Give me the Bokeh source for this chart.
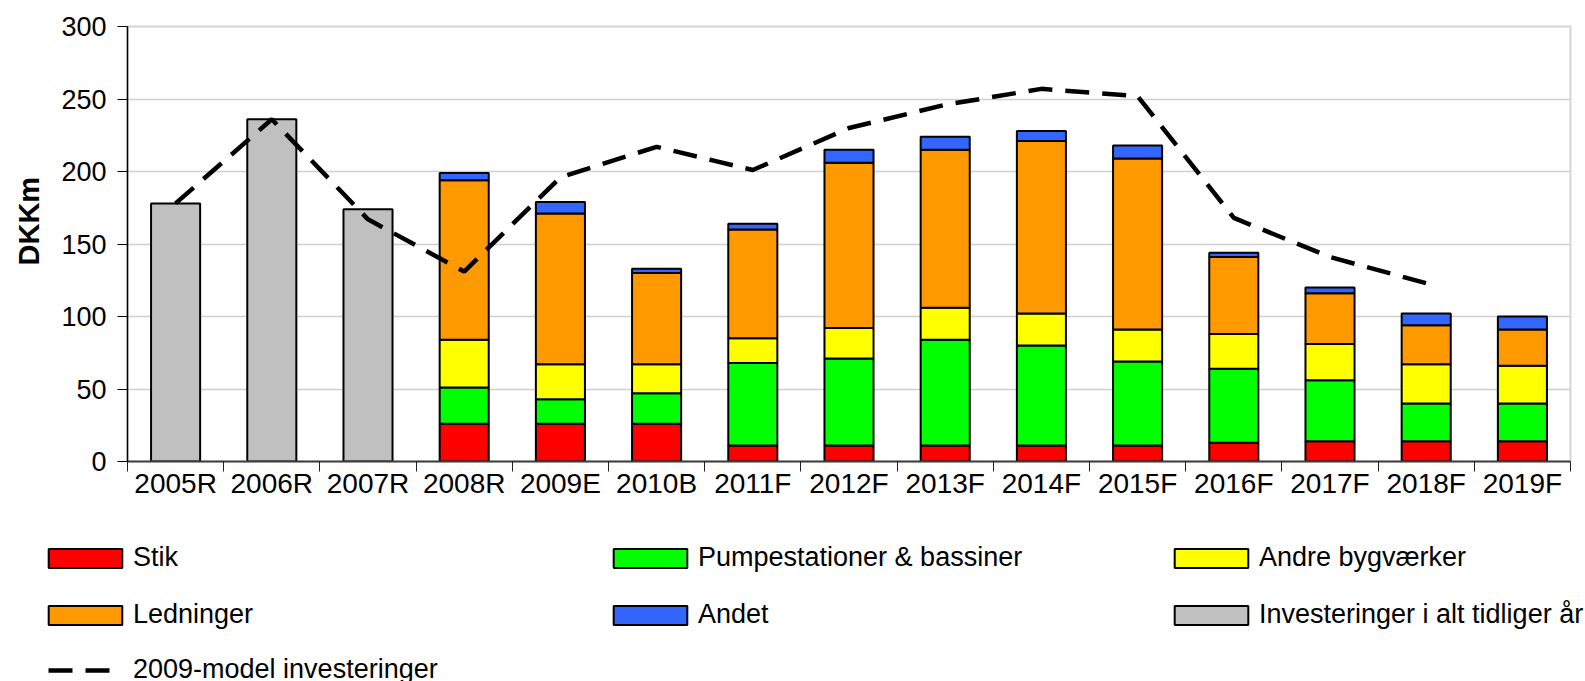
from bokeh.plotting import figure
from bokeh.models import (ColumnDataSource, FixedTicker, Legend, LegendItem,
                          Range1d, Title)
from bokeh.embed import file_html
from bokeh.resources import INLINE

# ---------------- data ----------------
categories = ["2005R", "2006R", "2007R", "2008R", "2009E", "2010B", "2011F",
              "2012F", "2013F", "2014F", "2015F", "2016F", "2017F", "2018F", "2019F"]

earlier_years = ["2005R", "2006R", "2007R"]
earlier_total = [178, 236, 174]

stack_years = ["2008R", "2009E", "2010B", "2011F", "2012F", "2013F",
               "2014F", "2015F", "2016F", "2017F", "2018F", "2019F"]
stik = [26, 26, 26, 11, 11, 11, 11, 11, 13, 14, 14, 14]
pumpe = [25, 17, 21, 57, 60, 73, 69, 58, 51, 42, 26, 26]
andre = [33, 24, 20, 17, 21, 22, 22, 22, 24, 25, 27, 26]
ledninger = [110, 104, 63, 75, 114, 109, 119, 118, 53, 35, 27, 25]
andet = [5, 8, 3, 4, 9, 9, 7, 9, 3, 4, 8, 9]

model_years = ["2005R", "2006R", "2007R", "2008R", "2009E", "2010B", "2011F",
               "2012F", "2013F", "2014F", "2015F", "2016F", "2017F", "2018F"]
model_2009 = [178, 236, 167, 131, 196, 217, 201, 230, 246, 257, 252, 168, 141, 123]

y_ticks = [0, 50, 100, 150, 200, 250, 300]

series_labels = ["Stik", "Pumpestationer & bassiner", "Andre bygværker",
                 "Ledninger", "Andet"]
earlier_label = "Investeringer i alt tidliger år"
model_label = "2009-model investeringer"
y_title = "DKKm"

# ---------------- styles ----------------
FONT = "Liberation Sans"
stack_names = ["stik", "pumpe", "andre", "ledninger", "andet"]
stack_colors = ["#ff0000", "#00ff00", "#ffff00", "#ff9900", "#3366ff"]
GRAY = "#c0c0c0"
W = 0.51

idx = {c: i for i, c in enumerate(categories)}
centers = [i + 0.5 for i in range(len(categories))]
bounds = list(range(len(categories) + 1))

stack_src = ColumnDataSource(dict(
    x=[idx[c] + 0.5 for c in stack_years],
    stik=stik, pumpe=pumpe, andre=andre, ledninger=ledninger, andet=andet))
gray_src = ColumnDataSource(dict(x=[idx[c] + 0.5 for c in earlier_years],
                                 top=earlier_total))
line_src = ColumnDataSource(dict(x=[idx[c] + 0.5 for c in model_years],
                                 y=model_2009))

H1 = 540
p = figure(width=1585, height=H1, x_range=Range1d(0, len(categories)),
           y_range=Range1d(0, 300), output_backend="svg", toolbar_location=None,
           min_border_left=127, min_border_right=15, min_border_top=26,
           min_border_bottom=H1 - 461, title_location="left")

p.title = Title(text=y_title, align="left", offset=196, vertical_align="top",
                text_font=FONT, text_font_size="29px", text_font_style="bold",
                text_color="black", standoff=24)

p.outline_line_color = "#d4d4d4"
p.outline_line_width = 2
p.xgrid.visible = False
p.ygrid.grid_line_color = "#cfcfcf"
p.ygrid.grid_line_width = 1.5
p.ygrid.ticker = FixedTicker(ticks=y_ticks)

# y axis
ya = p.yaxis[0]
ya.ticker = FixedTicker(ticks=y_ticks)
ya.major_tick_out = 10
ya.major_tick_in = 0
ya.minor_tick_out = 0
ya.minor_tick_in = 0
ya.axis_line_color = "black"
ya.axis_line_width = 1.5
ya.major_tick_line_color = "black"
ya.major_label_text_font = FONT
ya.major_label_text_font_size = "27px"
ya.major_label_text_color = "black"
ya.major_label_standoff = 11

# x axis: labels at category centers, tick marks at category boundaries
xa = p.xaxis[0]
xa.ticker = FixedTicker(ticks=centers, minor_ticks=bounds)
xa.major_label_overrides = {c: lab for c, lab in zip(centers, categories)}
xa.major_tick_out = 0
xa.major_tick_in = 0
xa.major_tick_line_color = None
xa.minor_tick_out = 10
xa.minor_tick_in = 0
xa.minor_tick_line_color = "#202020"
xa.axis_line_color = "#404040"
xa.axis_line_width = 2
xa.major_label_text_font = FONT
xa.major_label_text_font_size = "28px"
xa.major_label_text_color = "black"
xa.major_label_standoff = -4

# bars
bar_style = dict(line_color="black", line_width=2)
r_gray = p.vbar(x="x", top="top", width=W, source=gray_src,
                fill_color=GRAY, **bar_style)
rs = p.vbar_stack(stack_names, x="x", width=W, source=stack_src,
                  fill_color=stack_colors, **bar_style)

line_style = dict(line_color="black", line_width=4.5, line_dash="24 13")
r_line = p.line("x", "y", source=line_src, **line_style)

# ---------------- legend figure (below the chart) ----------------
H2 = 681 - H1
q = figure(width=1585, height=H2, x_range=Range1d(0, 1), y_range=Range1d(0, 1),
           output_backend="svg", toolbar_location=None,
           x_axis_location=None, y_axis_location=None,
           min_border=0, min_border_left=0, min_border_right=0,
           min_border_top=0, min_border_bottom=0)
q.outline_line_color = None
q.xgrid.visible = False
q.ygrid.visible = False

# hidden copies of the chart renderers, used only for the legend swatches
lg_bars = q.vbar_stack(stack_names, x="x", width=W, source=stack_src,
                       fill_color=stack_colors, **bar_style)
lg_gray = q.vbar(x="x", top="top", width=W, source=gray_src,
                 fill_color=GRAY, **bar_style)
lg_line = q.line("x", "y", source=line_src, **line_style)
for r in lg_bars + [lg_gray, lg_line]:
    r.visible = False


def make_legend(items, loc, gw=92, gh=24, standoff=2):
    return Legend(items=items, location=loc, glyph_width=gw, glyph_height=gh,
                  label_standoff=standoff, spacing=26, padding=0, margin=0,
                  border_line_color=None, background_fill_alpha=0,
                  label_text_font=FONT, label_text_font_size="27px",
                  label_text_color="black", label_height=20)


leg1 = make_legend([LegendItem(label=series_labels[0], renderers=[lg_bars[0]]),
                    LegendItem(label=series_labels[3], renderers=[lg_bars[3]])],
                   (39, 51))
leg1b = make_legend([LegendItem(label=model_label, renderers=[lg_line])],
                    (48, -4), gw=74, gh=24, standoff=11)
leg2 = make_legend([LegendItem(label=series_labels[1], renderers=[lg_bars[1]]),
                    LegendItem(label=series_labels[4], renderers=[lg_bars[4]])],
                   (604, 51))
leg3 = make_legend([LegendItem(label=series_labels[2], renderers=[lg_bars[2]]),
                    LegendItem(label=earlier_label, renderers=[lg_gray])],
                   (1165, 51))
for lg in (leg1, leg1b, leg2, leg3):
    q.add_layout(lg)

open("out.html", "w").write(file_html([p, q], INLINE))
